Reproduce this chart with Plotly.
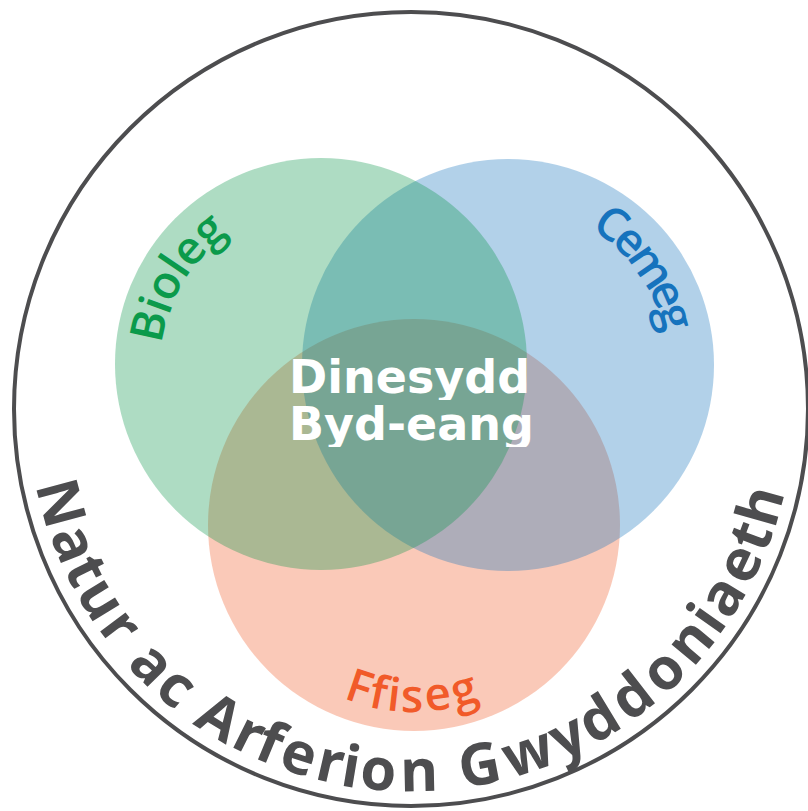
import math
import plotly.graph_objects as go

# ---- data (labels) ----
set_labels = ["Bioleg", "Cemeg", "Ffiseg"]
set_colors = ["#0a9648", "#1473bc", "#f05a28"]
label_colors = ["#0b9a4b", "#1673bd", "#f15a29"]
center_lines = ["Dinesydd", "Byd-eang"]
outer_label = "Natur ac Arferion Gwyddoniaeth"

# ---- layout geometry (pixel-like data coordinates) ----
W, H = 808, 811
circle_cx = [321, 508, 414]
circle_cy = [364, 365, 525]
circle_r = [206, 206, 206]
draw_order = [2, 1, 0]          # red bottom, then blue, green on top
outer = dict(cx=411, cy=409, r=397)

# label arc params: (radius of text centre, start angle, end angle, tops outward?)
label_arcs = [
    (178, -167.5, -130.0, True),
    (177, -53.7, -16.0, True),
    (169, 108.5, 73.0, False),
]
outer_arc = (360, 165.0, 15.5, False)

LABEL_FONT = "Open Sans"
CHAR_W = {
    'N': .76, 'a': .56, 't': .36, 'u': .62, 'r': .41, ' ': .26, 'c': .48, 'A': .63,
    'f': .34, 'e': .56, 'i': .26, 'o': .60, 'n': .62, 'G': .72, 'w': .82, 'y': .50,
    'd': .62, 'h': .62, 'B': .63, 'l': .26, 'g': .55, 'C': .63, 'm': .95, 'F': .52,
    's': .48,
}

fig = go.Figure()
fig.add_trace(go.Scatter(x=[0, W], y=[0, H], mode="markers",
                         marker=dict(opacity=0), hoverinfo="skip"))

shapes = []
for i in draw_order:
    shapes.append(dict(type="circle", xref="x", yref="y",
                       x0=circle_cx[i] - circle_r[i], x1=circle_cx[i] + circle_r[i],
                       y0=circle_cy[i] - circle_r[i], y1=circle_cy[i] + circle_r[i],
                       fillcolor=set_colors[i], opacity=0.33, line=dict(width=0),
                       layer="below"))
shapes.append(dict(type="circle", xref="x", yref="y",
                   x0=outer["cx"] - outer["r"], x1=outer["cx"] + outer["r"],
                   y0=outer["cy"] - outer["r"], y1=outer["cy"] + outer["r"],
                   line=dict(color="#4d4d4f", width=4), fillcolor="rgba(0,0,0,0)"))

annotations = []


def arc_text(text, cx, cy, r, a0, a1, outward, size, color, weight):
    widths = [CHAR_W.get(ch, .55) for ch in text]
    centers = []
    acc = 0.0
    for w in widths:
        centers.append(acc + w / 2)
        acc += w
    s0, s1 = centers[0], centers[-1]
    for ch, s in zip(text, centers):
        if ch == ' ':
            continue
        t = (s - s0) / (s1 - s0)
        th = a0 + (a1 - a0) * t
        rad = math.radians(th)
        x = cx + r * math.cos(rad)
        y = cy + r * math.sin(rad)
        ang = th + 90 if outward else th - 90
        ang = (ang + 180) % 360 - 180
        annotations.append(dict(x=x, y=y, xref="x", yref="y", text=ch,
                                showarrow=False, textangle=ang,
                                xanchor="center", yanchor="middle",
                                font=dict(family=LABEL_FONT, size=size,
                                          color=color, weight=weight)))


for i, lab in enumerate(set_labels):
    r, a0, a1, outw = label_arcs[i]
    arc_text(lab, circle_cx[i], circle_cy[i], r, a0, a1, outw, 46,
             label_colors[i], 600)

r, a0, a1, outw = outer_arc
arc_text(outer_label, outer["cx"], outer["cy"], r, a0, a1, outw, 58,
         "#4d4d4f", 700)

center_y = [377, 424]
for line, yy in zip(center_lines, center_y):
    annotations.append(dict(x=288, y=yy, xref="x", yref="y", text=line,
                            showarrow=False, xanchor="left", yanchor="middle",
                            height=46, valign="middle", borderpad=0,
                            font=dict(family="DejaVu Sans", size=46,
                                      color="white", weight="bold")))

fig.update_layout(
    width=W, height=H, margin=dict(l=0, r=0, t=0, b=0),
    paper_bgcolor="white", plot_bgcolor="white", showlegend=False,
    xaxis=dict(range=[0, W], visible=False, fixedrange=True),
    yaxis=dict(range=[H, 0], visible=False, fixedrange=True),
    shapes=shapes, annotations=annotations,
)
fig.write_html("out.html", config={"displayModeBar": False},
               post_script="document.body.style.margin='0';document.body.style.overflow='hidden';")
